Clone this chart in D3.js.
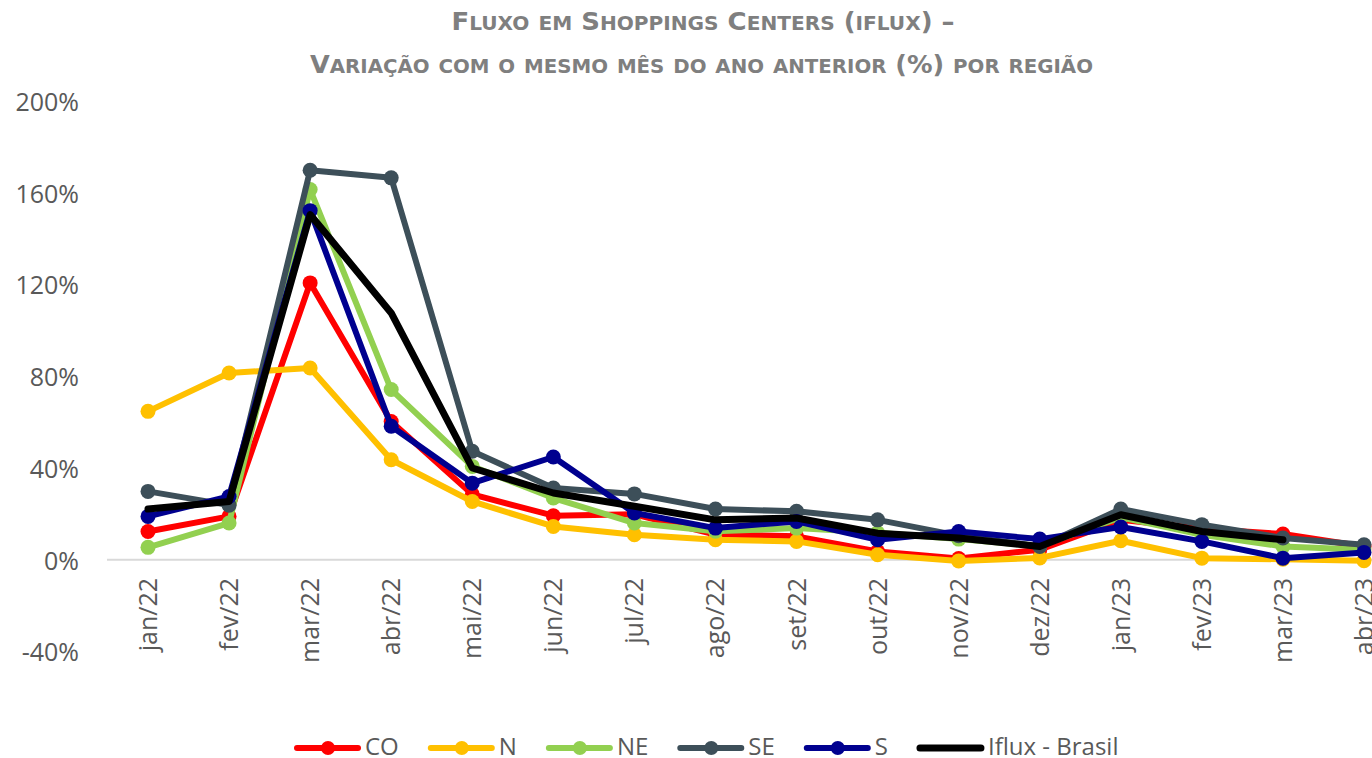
<!DOCTYPE html>
<html>
<head>
<meta charset="utf-8">
<script src="https://cdn.jsdelivr.net/npm/d3@7"></script>
<style>
	html, body { margin: 0; padding: 0; background: #fff; }
	svg { display: block; }
	text { font-family: "Open Sans", "Liberation Sans", sans-serif; }
	.title text { font-family: "Liberation Sans Narrow", "DejaVu Sans Condensed", "Liberation Sans", sans-serif; font-weight: bold; }
</style>
</head>
<body>
<div id="chart"></div>
<script>
const months = ["jan/22", "fev/22", "mar/22", "abr/22", "mai/22", "jun/22", "jul/22", "ago/22",
	"set/22", "out/22", "nov/22", "dez/22", "jan/23", "fev/23", "mar/23", "abr/23"];

const CO = [12.3, 18.9, 120.7, 60.3, 28.5, 19.2, 19.8, 11.0, 10.2, 3.6, 0.5, 4.4, 17.4, 13.5, 11.2, 5.8];
const N = [64.7, 81.4, 83.6, 43.6, 25.4, 14.5, 10.9, 8.7, 8.0, 2.2, -0.5, 0.8, 8.3, 0.7, 0.2, -0.4];
const NE = [5.4, 16.0, 161.4, 74.2, 40.7, 26.9, 16.0, 12.4, 13.8, 11.8, 9.0, 6.0, 18.5, 10.9, 5.8, 4.4];
const SE = [29.8, 23.8, 169.8, 166.5, 47.3, 31.3, 28.7, 22.1, 21.1, 17.4, 10.5, 5.8, 22.1, 15.3, 9.5, 6.5];
const S = [18.9, 27.6, 152.2, 58.2, 33.4, 44.8, 20.4, 13.8, 16.7, 8.7, 12.3, 9.0, 14.3, 8.0, 0.7, 3.2];
const Brasil = [22.1, 25.4, 150.5, 107.6, 40.0, 29.1, 23.3, 17.4, 18.2, 11.6, 9.5, 5.8, 19.6, 12.3, 8.7, null];

const yTicks = [-40, 0, 40, 80, 120, 160, 200];

const series = [
	{ key: "CO", values: CO, color: "#ff0000", marker: true },
	{ key: "N", values: N, color: "#ffc000", marker: true },
	{ key: "NE", values: NE, color: "#92d050", marker: true },
	{ key: "SE", values: SE, color: "#3d4f59", marker: true },
	{ key: "S", values: S, color: "#00008f", marker: true },
	{ key: "Iflux - Brasil", values: Brasil, color: "#000000", marker: false }
];

const width = 1372, height = 758;

const x = d3.scalePoint().domain(months).range([148, 1364]);
const y = d3.scaleLinear().domain([-40, 200]).range([651.5, 101]);

const svg = d3.select("#chart").append("svg")
	.attr("width", width)
	.attr("height", height)
	.attr("viewBox", `0 0 ${width} ${height}`);

// title in small caps, built by hand
function smallCaps(text, str, big, small) {
	let runs = [];
	for (const ch of str) {
		let low = ch !== ch.toUpperCase();
		let last = runs[runs.length - 1];
		if (last && last.low === low) last.t += ch;
		else runs.push({ low, t: ch });
	}
	text.selectAll("tspan")
		.data(runs)
		.join("tspan")
			.attr("font-size", d => d.low ? small : big)
			.text(d => d.t.toUpperCase());
}

let title = svg.append("g")
	.attr("class", "title")
	.attr("fill", "#7f7f7f")
	.attr("text-anchor", "middle");

smallCaps(title.append("text")
	.attr("x", 703).attr("y", 29.5)
	.attr("textLength", 503).attr("lengthAdjust", "spacingAndGlyphs"),
	"Fluxo em Shoppings Centers (iflux) –", 24.5, 19);

smallCaps(title.append("text")
	.attr("x", 701.5).attr("y", 72.5)
	.attr("textLength", 783).attr("lengthAdjust", "spacingAndGlyphs"),
	"Variação com o mesmo mês do ano anterior (%) por região", 24.5, 19);

// y axis labels
svg.append("g")
	.attr("class", "axis y")
	.attr("transform", "translate(79, 0)")
	.call(d3.axisLeft(y).tickValues(yTicks).tickSize(0).tickPadding(0).tickFormat(d => d + "%"))
	.call(g => g.select(".domain").remove())
	.call(g => g.selectAll("text")
		.attr("font-family", null)
		.attr("font-size", 25)
		.attr("fill", "#595959")
		.attr("dy", "0.37em"));

// zero line
svg.append("line")
	.attr("x1", 107).attr("x2", width)
	.attr("y1", y(0)).attr("y2", y(0))
	.attr("stroke", "#d9d9d9")
	.attr("stroke-width", 2);

// x axis labels, rotated
svg.append("g")
	.attr("class", "axis x")
	.selectAll("text")
	.data(months)
	.join("text")
		.attr("transform", d => `translate(${x(d) + 9}, 578) rotate(-90)`)
		.attr("text-anchor", "end")
		.attr("font-size", 25)
		.attr("fill", "#595959")
		.text(d => d);

let line = d3.line()
	.defined(d => d != null)
	.x((d, i) => x(months[i]))
	.y(d => y(d));

let groups = svg.append("g")
	.attr("class", "chart")
	.selectAll("g")
	.data(series)
	.join("g");

groups.append("path")
	.attr("d", d => line(d.values))
	.attr("fill", "none")
	.attr("stroke", d => d.color)
	.attr("stroke-width", d => d.marker ? 6 : 7)
	.attr("stroke-linejoin", "round")
	.attr("stroke-linecap", "round");

groups.filter(d => d.marker)
	.selectAll("circle")
	.data(d => d.values.map((v, i) => ({ v, i, color: d.color })).filter(p => p.v != null))
	.join("circle")
		.attr("cx", p => x(months[p.i]))
		.attr("cy", p => y(p.v))
		.attr("r", 7.5)
		.attr("fill", p => p.color);

// legend
let legend = svg.append("g").attr("class", "legend");
let lx = 294;
series.forEach(s => {
	let item = legend.append("g");
	item.append("line")
		.attr("x1", lx + 3).attr("x2", lx + 64)
		.attr("y1", 748).attr("y2", 748)
		.attr("stroke", s.color)
		.attr("stroke-width", s.marker ? 6 : 7)
		.attr("stroke-linecap", "round");
	if (s.marker) {
		item.append("circle")
			.attr("cx", lx + 34).attr("cy", 748).attr("r", 7)
			.attr("fill", s.color);
	}
	let t = item.append("text")
		.attr("x", lx + 71).attr("y", 755)
		.attr("font-size", 24)
		.attr("fill", "#595959")
		.text(s.key);
	lx += 71 + t.node().getComputedTextLength() + 29;
});
</script>
</body>
</html>
